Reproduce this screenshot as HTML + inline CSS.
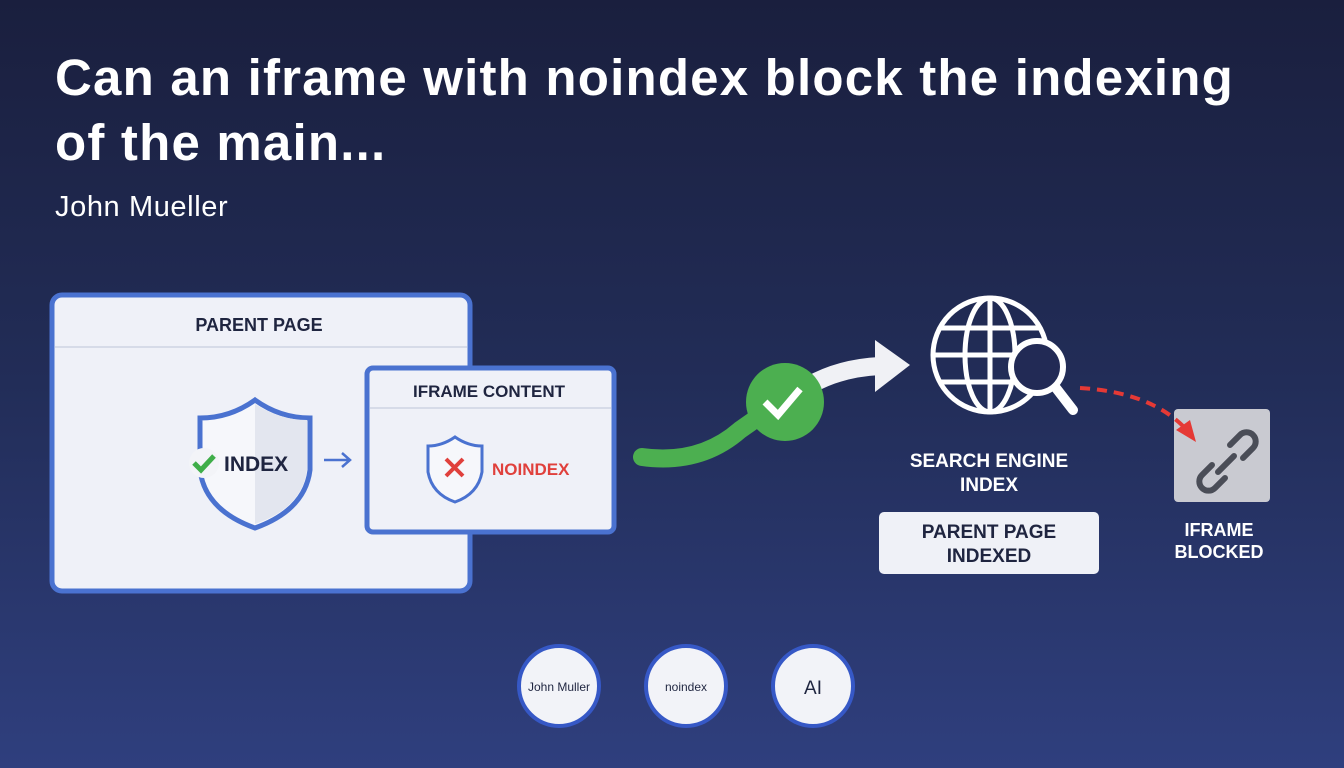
<!DOCTYPE html>
<html><head><meta charset="utf-8"><style>
body{margin:0;width:1344px;height:768px;overflow:hidden;background:linear-gradient(180deg,#1a1f3e 0%,#222d58 50%,#2f3f7e 100%);font-family:"Liberation Sans",sans-serif;position:relative}
.t{position:absolute;color:#fff}
</style></head><body>
<div class="t" style="left:55px;top:45px;font-size:51px;font-weight:bold;line-height:65px;letter-spacing:1.2px">Can an iframe with noindex block the indexing<br>of the main...</div>
<div class="t" style="left:55px;top:191px;font-size:29px;letter-spacing:0.6px">John Mueller</div>
<svg width="1344" height="768" style="position:absolute;left:0;top:0" font-family="Liberation Sans, sans-serif">
<rect x="52" y="295" width="418" height="296" rx="10" fill="#eff1f8" stroke="#4a72d0" stroke-width="5"/>
<line x1="55" y1="347" x2="467" y2="347" stroke="#d6dbe8" stroke-width="2"/>
<text x="259" y="331" text-anchor="middle" font-size="18" font-weight="bold" fill="#1f2540">PARENT PAGE</text>
<path d="M255 400 Q230 418 200 418 L200 470 Q205 510 255 528 Q305 510 310 470 L310 418 Q280 418 255 400Z" fill="#f6f7fb" stroke="#4a72d0" stroke-width="5"/>
<path d="M255 404 Q280 420 307 420 L307 470 Q302 508 255 524Z" fill="#e3e6ef"/>
<circle cx="204" cy="463" r="15" fill="#f3f4f8"/>
<path d="M194 463 l7 7 l13 -14" fill="none" stroke="#3fae49" stroke-width="5"/>
<text x="224" y="471" font-size="21" font-weight="bold" fill="#1f2540">INDEX</text>
<path d="M324 460 h26 m-8 -7 l8 7 l-8 7" fill="none" stroke="#4a72d0" stroke-width="2.5"/>
<rect x="367" y="368" width="247" height="164" rx="6" fill="#eff1f8" stroke="#4a72d0" stroke-width="5"/>
<line x1="370" y1="408" x2="611" y2="408" stroke="#d6dbe8" stroke-width="2"/>
<text x="489" y="397" text-anchor="middle" font-size="17" font-weight="bold" fill="#1f2540">IFRAME CONTENT</text>
<path d="M455 437 Q442 446 428 446 L428 472 Q432 494 455 502 Q478 494 482 472 L482 446 Q468 446 455 437Z" fill="#f6f7fb" stroke="#4a72d0" stroke-width="3"/>
<path d="M446 459 l17 17 m0 -17 l-17 17" stroke="#e0403c" stroke-width="4"/>
<text x="492" y="475" font-size="17" font-weight="bold" fill="#e0403c">NOINDEX</text>
<path d="M642 457 Q700 465 740 430 L790 395" fill="none" stroke="#4caf50" stroke-width="18" stroke-linecap="round"/>
<path d="M810 385 Q840 368 880 366" fill="none" stroke="#f0f1f5" stroke-width="18"/>
<path d="M875 340 L910 365 L875 392Z" fill="#f0f1f5"/>
<circle cx="785" cy="402" r="39" fill="#4caf50"/>
<path d="M765 402 l13 13 l22 -26" fill="none" stroke="#fff" stroke-width="7"/>
<g fill="none" stroke="#fff" stroke-width="5">
<circle cx="990" cy="355" r="57"/>
<ellipse cx="990" cy="355" rx="25" ry="57"/>
<line x1="990" y1="298" x2="990" y2="412"/>
<line x1="933" y1="355" x2="1047" y2="355"/>
<line x1="940" y1="328" x2="1040" y2="328"/>
<line x1="940" y1="382" x2="1040" y2="382"/>
</g>
<circle cx="1037" cy="367" r="26" fill="#222a55" stroke="#fff" stroke-width="6"/>
<line x1="1056" y1="388" x2="1073" y2="410" stroke="#fff" stroke-width="10" stroke-linecap="round"/>
<rect x="1174" y="409" width="96" height="93" rx="4" fill="#c9cad1"/>
<path d="M1080 388 Q1150 392 1185 428" fill="none" stroke="#e53935" stroke-width="4" stroke-dasharray="10 7"/>
<path d="M1176 430 l20 12 l-6 -22Z" fill="#e53935"/>
<g fill="none" stroke="#4a4d57" stroke-width="6" stroke-linecap="round">
<path d="M1212 465 l-10 10 a9 9 0 0 0 13 13 l10 -10"/>
<path d="M1230 445 l10 -10 a9 9 0 0 1 13 13 l-10 10"/>
<path d="M1218 472 l16 -16"/>
</g>
<text x="989" y="467" text-anchor="middle" font-size="19" font-weight="bold" fill="#fff">SEARCH ENGINE</text>
<text x="989" y="491" text-anchor="middle" font-size="19" font-weight="bold" fill="#fff">INDEX</text>
<rect x="879" y="512" width="220" height="62" rx="5" fill="#eff1f7"/>
<text x="989" y="538" text-anchor="middle" font-size="19" font-weight="bold" fill="#1f2540">PARENT PAGE</text>
<text x="989" y="562" text-anchor="middle" font-size="19" font-weight="bold" fill="#1f2540">INDEXED</text>
<text x="1219" y="536" text-anchor="middle" font-size="18" font-weight="bold" fill="#fff">IFRAME</text>
<text x="1219" y="558" text-anchor="middle" font-size="18" font-weight="bold" fill="#fff">BLOCKED</text>
<g fill="#f2f3f8" stroke="#3658c6" stroke-width="4">
<circle cx="559" cy="686" r="40"/><circle cx="686" cy="686" r="40"/><circle cx="813" cy="686" r="40"/>
</g>
<text x="559" y="691" text-anchor="middle" font-size="12" fill="#1f2540">John Muller</text>
<text x="686" y="691" text-anchor="middle" font-size="12" fill="#1f2540">noindex</text>
<text x="813" y="694" text-anchor="middle" font-size="19" fill="#1f2540">AI</text>
</svg>
</body></html>
